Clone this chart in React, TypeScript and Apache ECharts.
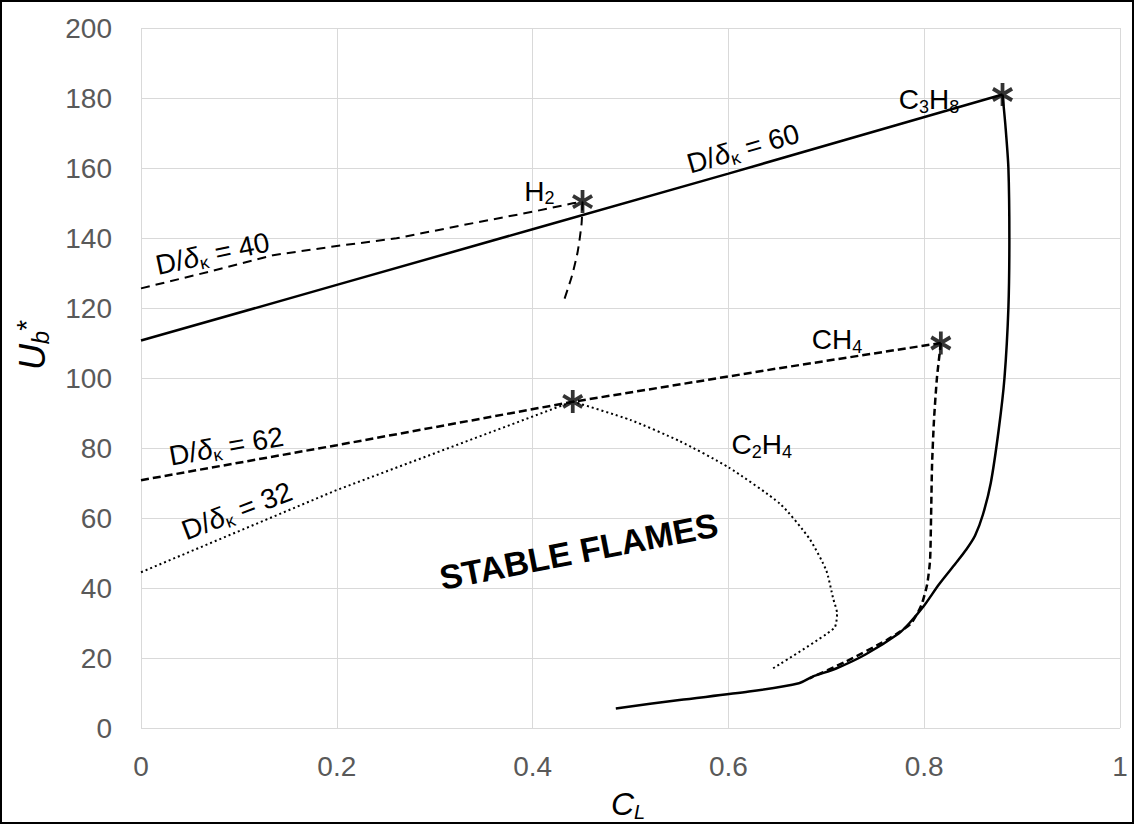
import React, { useEffect, useRef } from "react";
import * as echarts from "echarts";

const FONT = 'Arial, "Liberation Sans", Helvetica, sans-serif';

// x: C_L, y: U_b*
const C3H8_LEAN: number[][] = [[0, 110.7], [0.2, 126.6], [0.4, 142.5], [0.6, 158.4], [0.88, 181]];
const C3H8_RICH: number[][] = [
  [0.88, 181], [0.883, 172], [0.886, 160], [0.887, 140], [0.886, 120], [0.882, 100],
  [0.876, 85], [0.868, 70], [0.86, 61], [0.852, 55], [0.843, 51], [0.832, 47],
  [0.815, 41], [0.8, 35], [0.785, 30], [0.774, 27], [0.74, 21], [0.71, 17],
  [0.686, 14.7], [0.672, 12.8], [0.621, 10.4], [0.55, 8], [0.485, 5.6],
];
const H2_LEAN: number[][] = [
  [0, 125.6], [0.07, 130.4], [0.135, 135.1], [0.2, 137.7], [0.261, 139.9],
  [0.329, 143.7], [0.4, 147.5], [0.441, 149.9], [0.451, 150.4],
];
const H2_RICH: number[][] = [[0.451, 150.4], [0.45, 144], [0.446, 136], [0.44, 129], [0.431, 121.3]];
const CH4_LEAN: number[][] = [[0, 70.8], [0.2, 80.8], [0.441, 93.2], [0.652, 102.8], [0.817, 110]];
const CH4_RICH: number[][] = [
  [0.817, 110], [0.813, 100], [0.81, 88], [0.808, 75], [0.807, 60], [0.806, 48],
  [0.803, 41], [0.797, 35], [0.787, 30], [0.775, 27.5], [0.761, 25], [0.72, 19], [0.683, 14.2],
];
const C2H4_LEAN: number[][] = [[0, 44.5], [0.2, 68], [0.441, 93.3]];
const C2H4_RICH: number[][] = [
  [0.441, 93.3], [0.5, 88], [0.55, 82], [0.6, 74.5], [0.653, 64], [0.683, 54],
  [0.7, 45], [0.707, 37], [0.711, 32.8], [0.708, 28.5], [0.643, 16.6],
];
const STAR_POINTS: number[][] = [[0.88, 181], [0.451, 150.4], [0.817, 110], [0.441, 93.3]];

// annotation labels: text, data anchor, rotation (deg)
const LABELS = [
  { text: "{n|D/}{i|δ}{s|κ}{n| = 40}", at: [0.073, 135.5], rot: 12 },
  { text: "{n|D/}{i|δ}{s|κ}{n| = 60}", at: [0.615, 165.5], rot: 16 },
  { text: "{n|D/}{i|δ}{s|κ}{n| = 62}", at: [0.087, 80.5], rot: 10 },
  { text: "{n|D/}{i|δ}{s|κ}{n| = 32}", at: [0.098, 62], rot: 21 },
  { text: "{n|H}{s|2}", at: [0.407, 153.4], rot: 0 },
  { text: "{n|C}{s|3}{n|H}{s|8}", at: [0.805, 179.5], rot: 0 },
  { text: "{n|CH}{s|4}", at: [0.711, 111], rot: 0 },
  { text: "{n|C}{s|2}{n|H}{s|4}", at: [0.634, 81], rot: 0 },
  { text: "{b|STABLE FLAMES}", at: [0.447, 50.5], rot: 11 },
];

const STAR_PATH =
  "path://M-1.7,-10L1.7,-10L1.7,10L-1.7,10Z" +
  "M7.82,6.45L-9.5,-3.55L-7.82,-6.45L9.5,3.55Z" +
  "M-9.5,3.55L7.82,-6.45L9.5,-3.55L-7.82,6.45Z";

const RICH: any = {
  n: { fontSize: 28, fontFamily: FONT, lineHeight: 32, fill: "#000" },
  i: { fontSize: 28, fontFamily: FONT, fontStyle: "italic", lineHeight: 32, fill: "#000" },
  s: { fontSize: 18, fontFamily: FONT, lineHeight: 16, verticalAlign: "bottom", fill: "#000" },
  b: { fontSize: 34, fontFamily: FONT, fontWeight: "bold", lineHeight: 38, fill: "#000" },
};

function lineSeries(data: number[][], type: any, width: number, smooth: number | boolean = false) {
  return {
    type: "line",
    data,
    symbol: "none",
    smooth,
    lineStyle: { color: "#000", width, type, cap: "butt" },
    z: 3,
  };
}

export default function App() {
  const ref = useRef<HTMLDivElement>(null);
  useEffect(() => {
    document.body.style.margin = "0";
    const chart = echarts.init(ref.current!, null, { renderer: "svg" });
    const axisLabel = { color: "#595959", fontSize: 28, fontFamily: FONT };
    chart.setOption({
      animation: false,
      backgroundColor: "#fff",
      grid: { left: 141, right: 15, top: 28, bottom: 97, containLabel: false },
      xAxis: {
        type: "value",
        min: 0,
        max: 1,
        interval: 0.2,
        axisLine: { show: false },
        axisTick: { show: false },
        axisLabel: { ...axisLabel, margin: 24, formatter: (v: number) => String(+v.toFixed(1)) },
        splitLine: { show: true, lineStyle: { color: "#d9d9d9", width: 1 } },
      },
      yAxis: {
        type: "value",
        min: 0,
        max: 200,
        interval: 20,
        axisLine: { show: false },
        axisTick: { show: false },
        axisLabel: { ...axisLabel, margin: 29 },
        splitLine: { show: true, lineStyle: { color: "#d9d9d9", width: 1 } },
      },
      series: [
        lineSeries(C3H8_LEAN, "solid", 2.5),
        lineSeries(C3H8_RICH, "solid", 2.5, 0.25),
        lineSeries(H2_LEAN, [9, 6], 2),
        lineSeries(H2_RICH, [9, 6], 2, 0.2),
        lineSeries(CH4_LEAN, [8, 4], 2.5),
        lineSeries(CH4_RICH, [7, 4], 2.5, 0.2),
        lineSeries(C2H4_LEAN, [2, 3], 2),
        lineSeries(C2H4_RICH, [2, 3], 2, 0.2),
        {
          type: "scatter",
          data: STAR_POINTS,
          symbol: STAR_PATH,
          symbolSize: [21, 23],
          itemStyle: { color: "#000" },
          z: 5,
        },
      ],
    });

    const labelGraphics = LABELS.map((l) => {
      const p = chart.convertToPixel({ xAxisIndex: 0, yAxisIndex: 0 }, l.at) as number[];
      return {
        type: "text",
        x: p[0],
        y: p[1],
        rotation: (l.rot * Math.PI) / 180,
        z: 10,
        style: { text: l.text, rich: RICH, align: "center", verticalAlign: "middle", fill: "#000" },
      };
    });

    chart.setOption({
      graphic: [
        ...labelGraphics,
        {
          type: "text",
          x: 32,
          y: 345,
          rotation: Math.PI / 2,
          z: 10,
          style: {
            text: "{u|U}{b|b}{t|*}",
            align: "center",
            verticalAlign: "middle",
            rich: {
              u: { fontSize: 36, fontFamily: FONT, fontStyle: "italic", lineHeight: 40, fill: "#000" },
              b: { fontSize: 24, fontFamily: FONT, fontStyle: "italic", lineHeight: 22, verticalAlign: "bottom", fill: "#000" },
              t: { fontSize: 28, fontFamily: FONT, lineHeight: 26, verticalAlign: "top", fill: "#000" },
            },
          },
        },
        {
          type: "text",
          x: 628,
          y: 804,
          z: 10,
          style: {
            text: "{c|C}{l|L}",
            align: "center",
            verticalAlign: "middle",
            rich: {
              c: { fontSize: 32, fontFamily: FONT, fontStyle: "italic", lineHeight: 36, fill: "#000" },
              l: { fontSize: 20, fontFamily: FONT, fontStyle: "italic", lineHeight: 18, verticalAlign: "bottom", fill: "#000" },
            },
          },
        },
        {
          type: "rect",
          shape: { x: 1, y: 1, width: 1132, height: 822 },
          style: { fill: "none", stroke: "#000", lineWidth: 2 },
          z: 20,
          silent: true,
        },
      ],
    });
    return () => chart.dispose();
  }, []);
  return <div ref={ref} style={{ width: 1135, height: 825 }} />;
}
